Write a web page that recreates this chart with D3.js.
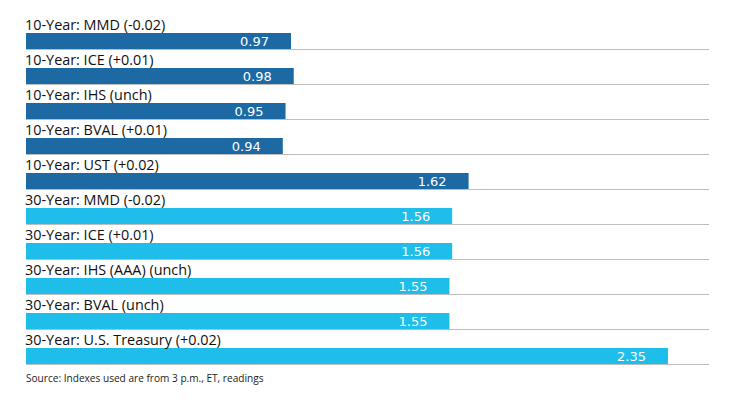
<!DOCTYPE html>
<html><head><meta charset="utf-8">
<script src="https://cdn.jsdelivr.net/npm/d3@7"></script>
<style>body{margin:0;background:#fff}</style>
</head><body>
<svg id="c" width="740" height="400"></svg>
<script>
const categories = ["10-Year: MMD (-0.02)","10-Year: ICE (+0.01)","10-Year: IHS (unch)","10-Year: BVAL (+0.01)","10-Year: UST (+0.02)","30-Year: MMD (-0.02)","30-Year: ICE (+0.01)","30-Year: IHS (AAA) (unch)","30-Year: BVAL (unch)","30-Year: U.S. Treasury (+0.02)"];
const values = [0.97,0.98,0.95,0.94,1.62,1.56,1.56,1.55,1.55,2.35];
const groups = ["10","10","10","10","10","30","30","30","30","30"];
const source = "Source: Indexes used are from 3 p.m., ET, readings";

const svg = d3.select("#c");
const x = d3.scaleLinear().domain([0,2.5]).range([26,709]);
const y = d3.scaleBand().domain(categories).range([14,364]).padding(0);
const color = d3.scaleOrdinal().domain(["10","30"]).range(["#1d69a4","#1fbeea"]);

const rows = svg.selectAll("g.row").data(categories).join("g").attr("class","row")
  .attr("transform", d => `translate(0,${y(d)})`);

rows.append("line").attr("x1", x(0)).attr("x2", x(2.5)).attr("y1", 35.5).attr("y2", 35.5)
  .attr("stroke","#bdbdbd").attr("stroke-width",1.2);
rows.append("rect").attr("x", x(0)).attr("y",19).attr("height",16)
  .attr("width",(d,i)=>x(values[i])-x(0)).attr("fill",(d,i)=>color(groups[i]));
rows.append("text").attr("x", x(0)-1).attr("y",16).text(d=>d)
  .attr("font-family","Open Sans, sans-serif").attr("font-size",14.4).attr("fill","#111");
rows.append("text").attr("x",(d,i)=>x(values[i])-22).attr("y",32).attr("text-anchor","end")
  .text((d,i)=>values[i].toFixed(2)).attr("font-family","DejaVu Sans, sans-serif")
  .attr("font-size",13).attr("fill","#fff");

svg.append("text").attr("x",26).attr("y",382).text(source)
  .attr("font-family","Open Sans, sans-serif").attr("font-size",10.1).attr("fill","#222");
</script>
</body></html>
